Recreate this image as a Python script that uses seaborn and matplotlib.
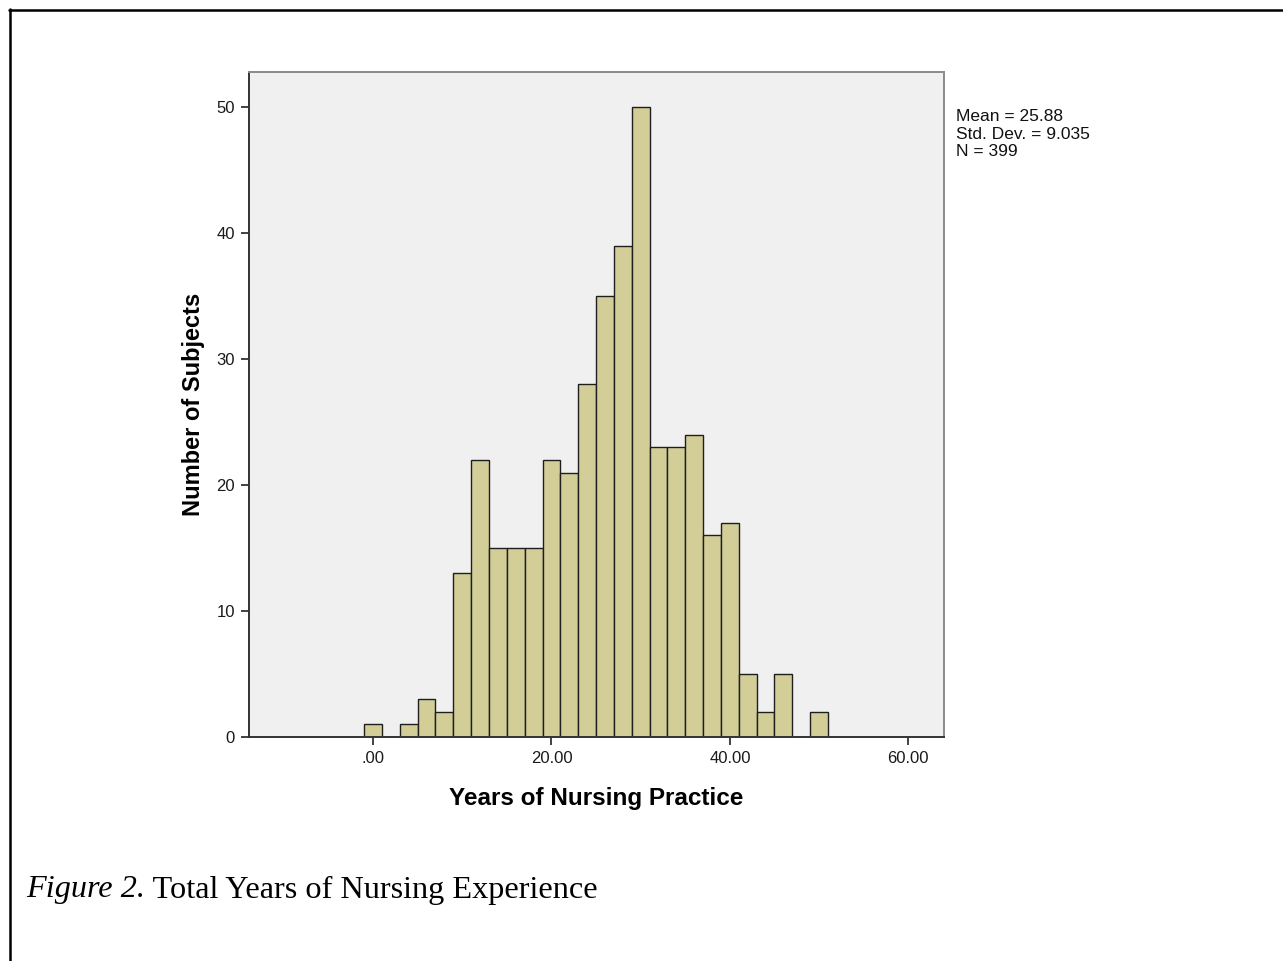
import matplotlib
matplotlib.use("Agg")
import matplotlib.pyplot as plt
from matplotlib.lines import Line2D
import seaborn as sns
import pandas as pd

# Histogram of years of nursing practice (2-year bins centred on even years)
years = [0, 2, 4, 6, 8, 10, 12, 14, 16, 18, 20, 22, 24, 26, 28, 30,
         32, 34, 36, 38, 40, 42, 44, 46, 48, 50]
subjects = [1, 0, 1, 3, 2, 13, 22, 15, 15, 15, 22, 21, 28, 35, 39, 50,
            23, 23, 24, 16, 17, 5, 2, 5, 0, 2]
x_ticks = [0, 20, 40, 60]
x_tick_labels = [".00", "20.00", "40.00", "60.00"]
y_ticks = [0, 10, 20, 30, 40, 50]
stats_lines = ["Mean = 25.88", "Std. Dev. = 9.035", "N = 399"]

sns.set_theme(style="ticks")
plt.rcParams["font.family"] = ["Liberation Sans", "DejaVu Sans"]
plt.rcParams["text.color"] = "black"
plt.rcParams["axes.labelcolor"] = "black"

df = pd.DataFrame({"years": years, "subjects": subjects})

fig = plt.figure(figsize=(12.83, 9.61), dpi=100)
ax = fig.add_axes([249 / 1283, 1 - 737 / 961, (944 - 249) / 1283, (737 - 72) / 961])
ax.set_facecolor("#F0F0F0")

sns.histplot(data=df, x="years", weights="subjects", binwidth=2, binrange=(-1, 51),
             color="#D3CE98", edgecolor="#1E1E1E", linewidth=1.0, alpha=1.0, ax=ax)

ax.set_xlim(-13.9, 64.0)
ax.set_ylim(0, 52.8)
ax.set_xticks(x_ticks)
ax.set_xticklabels(x_tick_labels)
ax.set_yticks(y_ticks)
ax.tick_params(axis="both", direction="out", length=6, width=1.2, color="#222222",
               labelsize=12, labelcolor="#1A1A1A", pad=4)

for side in ("left", "bottom"):
    ax.spines[side].set_color("#333333")
    ax.spines[side].set_linewidth(1.4)
for side in ("top", "right"):
    ax.spines[side].set_visible(True)
    ax.spines[side].set_color("#8A8A8A")
    ax.spines[side].set_linewidth(1.4)

ax.set_xlabel("Years of Nursing Practice", fontsize=17.5, fontweight="bold", labelpad=15)
ax.set_ylabel("Number of Subjects", fontsize=17, fontweight="bold", labelpad=8)

# Summary statistics beside the plot
fig.text(956 / 1283, 1 - 109 / 961, "\n".join(stats_lines), fontsize=12.5,
         va="top", ha="left", color="#111111", linespacing=1.22)

# Page frame (top and left rules)
fig.add_artist(Line2D([9 / 1283, 1.0], [1 - 10 / 961, 1 - 10 / 961],
                      transform=fig.transFigure, color="black", linewidth=1.8))
fig.add_artist(Line2D([10 / 1283, 10 / 1283], [0.0, 1 - 9 / 961],
                      transform=fig.transFigure, color="black", linewidth=1.8))

# Caption: italic figure number followed by the title
cap_y = 1 - 890 / 961
serif = ["Liberation Serif", "DejaVu Serif"]
t1 = fig.text(26 / 1283, cap_y, "Figure 2.", fontsize=23.2, style="italic",
              family=serif, va="center", ha="left", color="black")
fig.canvas.draw()
bb = t1.get_window_extent(renderer=fig.canvas.get_renderer())
fig.text(bb.x1 / fig.bbox.width, cap_y, " Total Years of Nursing Experience", fontsize=23.2,
         family=serif, va="center", ha="left", color="black")

fig.savefig("out.png", dpi=100, facecolor="white")
